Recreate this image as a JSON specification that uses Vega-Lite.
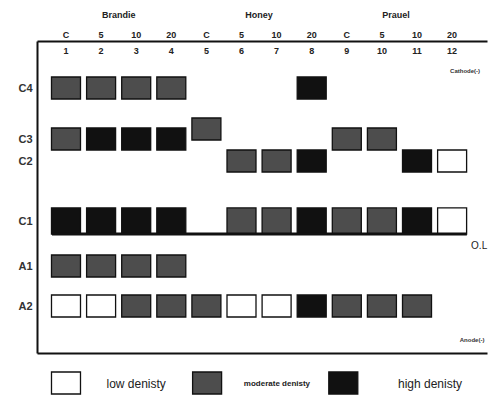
{
  "$schema": "https://vega.github.io/schema/vega-lite/v6.json",
  "width": 450,
  "height": 312,
  "padding": {"left": 37, "top": 41, "right": 2, "bottom": 42},
  "autosize": "none",
  "background": "white",
  "config": {
    "view": {"stroke": null},
    "font": "Liberation Sans",
    "axis": {"grid": false, "ticks": false, "labels": false, "title": null, "domainColor": "#111", "domainWidth": 2}
  },
  "datasets": {
    "bands": [
      {"lane": 1, "pos": 47, "density": "moderate"},
      {"lane": 2, "pos": 47, "density": "moderate"},
      {"lane": 3, "pos": 47, "density": "moderate"},
      {"lane": 4, "pos": 47, "density": "moderate"},
      {"lane": 8, "pos": 47, "density": "high"},
      {"lane": 5, "pos": 88, "density": "moderate"},
      {"lane": 1, "pos": 98, "density": "moderate"},
      {"lane": 2, "pos": 98, "density": "high"},
      {"lane": 3, "pos": 98, "density": "high"},
      {"lane": 4, "pos": 98, "density": "high"},
      {"lane": 9, "pos": 98, "density": "moderate"},
      {"lane": 10, "pos": 98, "density": "moderate"},
      {"lane": 6, "pos": 120, "density": "moderate"},
      {"lane": 7, "pos": 120, "density": "moderate"},
      {"lane": 8, "pos": 120, "density": "high"},
      {"lane": 11, "pos": 120, "density": "high"},
      {"lane": 12, "pos": 120, "density": "low"},
      {"lane": 1, "pos": 225, "density": "moderate"},
      {"lane": 2, "pos": 225, "density": "moderate"},
      {"lane": 3, "pos": 225, "density": "moderate"},
      {"lane": 4, "pos": 225, "density": "moderate"},
      {"lane": 1, "pos": 265, "density": "low"},
      {"lane": 2, "pos": 265, "density": "low"},
      {"lane": 3, "pos": 265, "density": "moderate"},
      {"lane": 4, "pos": 265, "density": "moderate"},
      {"lane": 5, "pos": 265, "density": "moderate"},
      {"lane": 6, "pos": 265, "density": "low"},
      {"lane": 7, "pos": 265, "density": "low"},
      {"lane": 8, "pos": 265, "density": "high"},
      {"lane": 9, "pos": 265, "density": "moderate"},
      {"lane": 10, "pos": 265, "density": "moderate"},
      {"lane": 11, "pos": 265, "density": "moderate"}
    ],
    "c1": [
      {"lane": 1, "pos": 180, "density": "high"},
      {"lane": 2, "pos": 180, "density": "high"},
      {"lane": 3, "pos": 180, "density": "high"},
      {"lane": 4, "pos": 180, "density": "high"},
      {"lane": 6, "pos": 180, "density": "moderate"},
      {"lane": 7, "pos": 180, "density": "moderate"},
      {"lane": 8, "pos": 180, "density": "high"},
      {"lane": 9, "pos": 180, "density": "moderate"},
      {"lane": 10, "pos": 180, "density": "moderate"},
      {"lane": 11, "pos": 180, "density": "high"},
      {"lane": 12, "pos": 180, "density": "low"}
    ],
    "origin": [{"from": 0.6, "to": 12.42, "pos": 193}],
    "lanes": [
      {"lane": 1, "pos": 10, "label": "1"}, {"lane": 2, "pos": 10, "label": "2"},
      {"lane": 3, "pos": 10, "label": "3"}, {"lane": 4, "pos": 10, "label": "4"},
      {"lane": 5, "pos": 10, "label": "5"}, {"lane": 6, "pos": 10, "label": "6"},
      {"lane": 7, "pos": 10, "label": "7"}, {"lane": 8, "pos": 10, "label": "8"},
      {"lane": 9, "pos": 10, "label": "9"}, {"lane": 10, "pos": 10, "label": "10"},
      {"lane": 11, "pos": 10, "label": "11"}, {"lane": 12, "pos": 10, "label": "12"}
    ],
    "conc": [
      {"lane": 1, "pos": -6, "label": "C"}, {"lane": 2, "pos": -6, "label": "5"},
      {"lane": 3, "pos": -6, "label": "10"}, {"lane": 4, "pos": -6, "label": "20"},
      {"lane": 5, "pos": -6, "label": "C"}, {"lane": 6, "pos": -6, "label": "5"},
      {"lane": 7, "pos": -6, "label": "10"}, {"lane": 8, "pos": -6, "label": "20"},
      {"lane": 9, "pos": -6, "label": "C"}, {"lane": 10, "pos": -6, "label": "5"},
      {"lane": 11, "pos": -6, "label": "10"}, {"lane": 12, "pos": -6, "label": "20"}
    ],
    "groups": [
      {"lane": 2.5, "pos": -26, "label": "Brandie"},
      {"lane": 6.5, "pos": -26, "label": "Honey"},
      {"lane": 10.4, "pos": -26, "label": "Prauel"}
    ],
    "electrodes": [
      {"lane": 12.37, "pos": 30, "label": "Cathode(-)"},
      {"lane": 12.57, "pos": 299, "label": "Anode(-)"}
    ],
    "ol": [{"lane": 12.77, "pos": 205, "label": "O.L"}],
    "legendBoxes": [
      {"lane": 1.0, "pos": 342, "density": "low"},
      {"lane": 5.02, "pos": 342, "density": "moderate"},
      {"lane": 8.9, "pos": 342, "density": "high"}
    ],
    "legendBig": [
      {"lane": 3.0, "pos": 343, "label": "low denisty"},
      {"lane": 11.37, "pos": 343, "label": "high denisty"}
    ],
    "legendSmall": [
      {"lane": 7.01, "pos": 343, "label": "moderate denisty"}
    ]
  },
  "encoding": {
    "x": {"field": "lane", "type": "quantitative", "axis": null, "scale": {"domain": [0.174, 12.994], "nice": false, "zero": false}},
    "y": {"field": "pos", "type": "quantitative", "axis": null, "scale": {"domain": [0, 312], "reverse": true, "nice": false, "zero": false}}
  },
  "layer": [
    {
      "data": {"name": "bands"},
      "mark": {"type": "point", "filled": true, "shape": "M-1,-0.76L1,-0.76L1,0.76L-1,0.76Z", "size": 841, "stroke": "#111", "strokeWidth": 1.3, "opacity": 1},
      "encoding": {
        "x": {"field": "lane", "type": "quantitative", "axis": {"orient": "bottom"}},
        "y": {"field": "pos", "type": "quantitative", "axis": {"orient": "left", "labels": true, "values": [47, 98, 120, 180, 225, 265], "labelExpr": "datum.value == 47 ? 'C4' : datum.value == 98 ? 'C3' : datum.value == 120 ? 'C2' : datum.value == 180 ? 'C1' : datum.value == 225 ? 'A1' : 'A2'", "labelFont": "Liberation Sans", "labelFontWeight": "bold", "labelFontSize": 11, "labelColor": "#333", "labelPadding": 5}},
        "fill": {"field": "density", "type": "nominal", "scale": {"domain": ["low", "moderate", "high"], "range": ["#ffffff", "#4d4d4d", "#111111"]}, "legend": null}
      }
    },
    {
      "data": {"name": "c1"},
      "mark": {"type": "point", "filled": true, "shape": "M-1,-0.9L1,-0.9L1,0.9L-1,0.9Z", "size": 841, "stroke": "#111", "strokeWidth": 1.3, "opacity": 1},
      "encoding": {
        "x": {"field": "lane", "type": "quantitative", "axis": {"orient": "top"}},
        "fill": {"field": "density", "type": "nominal", "legend": null}
      }
    },
    {
      "data": {"name": "origin"},
      "mark": {"type": "rule", "stroke": "#111", "strokeWidth": 3},
      "encoding": {
        "x": {"field": "from", "type": "quantitative", "axis": null},
        "x2": {"field": "to"},
        "y": {"field": "pos", "type": "quantitative", "axis": null}
      }
    },
    {
      "data": {"name": "lanes"},
      "mark": {"type": "text", "font": "Liberation Sans", "fontWeight": "bold", "fontSize": 9, "color": "#222"},
      "encoding": {"text": {"field": "label"}}
    },
    {
      "data": {"name": "conc"},
      "mark": {"type": "text", "font": "Liberation Sans", "fontWeight": "bold", "fontSize": 9, "color": "#222"},
      "encoding": {"text": {"field": "label"}}
    },
    {
      "data": {"name": "groups"},
      "mark": {"type": "text", "font": "Liberation Sans", "fontWeight": "bold", "fontSize": 9, "color": "#222"},
      "encoding": {"text": {"field": "label"}}
    },
    {
      "data": {"name": "electrodes"},
      "mark": {"type": "text", "font": "Liberation Sans", "fontWeight": "bold", "fontSize": 6, "color": "#333"},
      "encoding": {"text": {"field": "label"}}
    },
    {
      "data": {"name": "ol"},
      "mark": {"type": "text", "font": "Liberation Sans", "fontSize": 10, "color": "#222"},
      "encoding": {"text": {"field": "label"}}
    },
    {
      "data": {"name": "legendBoxes"},
      "mark": {"type": "point", "filled": true, "shape": "M-1,-0.76L1,-0.76L1,0.76L-1,0.76Z", "size": 841, "stroke": "#111", "strokeWidth": 1.3, "opacity": 1},
      "encoding": {"fill": {"field": "density", "type": "nominal", "legend": null}}
    },
    {
      "data": {"name": "legendBig"},
      "mark": {"type": "text", "font": "Liberation Sans", "fontSize": 12, "color": "#222"},
      "encoding": {"text": {"field": "label"}}
    },
    {
      "data": {"name": "legendSmall"},
      "mark": {"type": "text", "font": "Liberation Sans", "fontWeight": "bold", "fontSize": 8, "color": "#222"},
      "encoding": {"text": {"field": "label"}}
    }
  ],
  "resolve": {"axis": {"x": "independent", "y": "independent"}}
}
